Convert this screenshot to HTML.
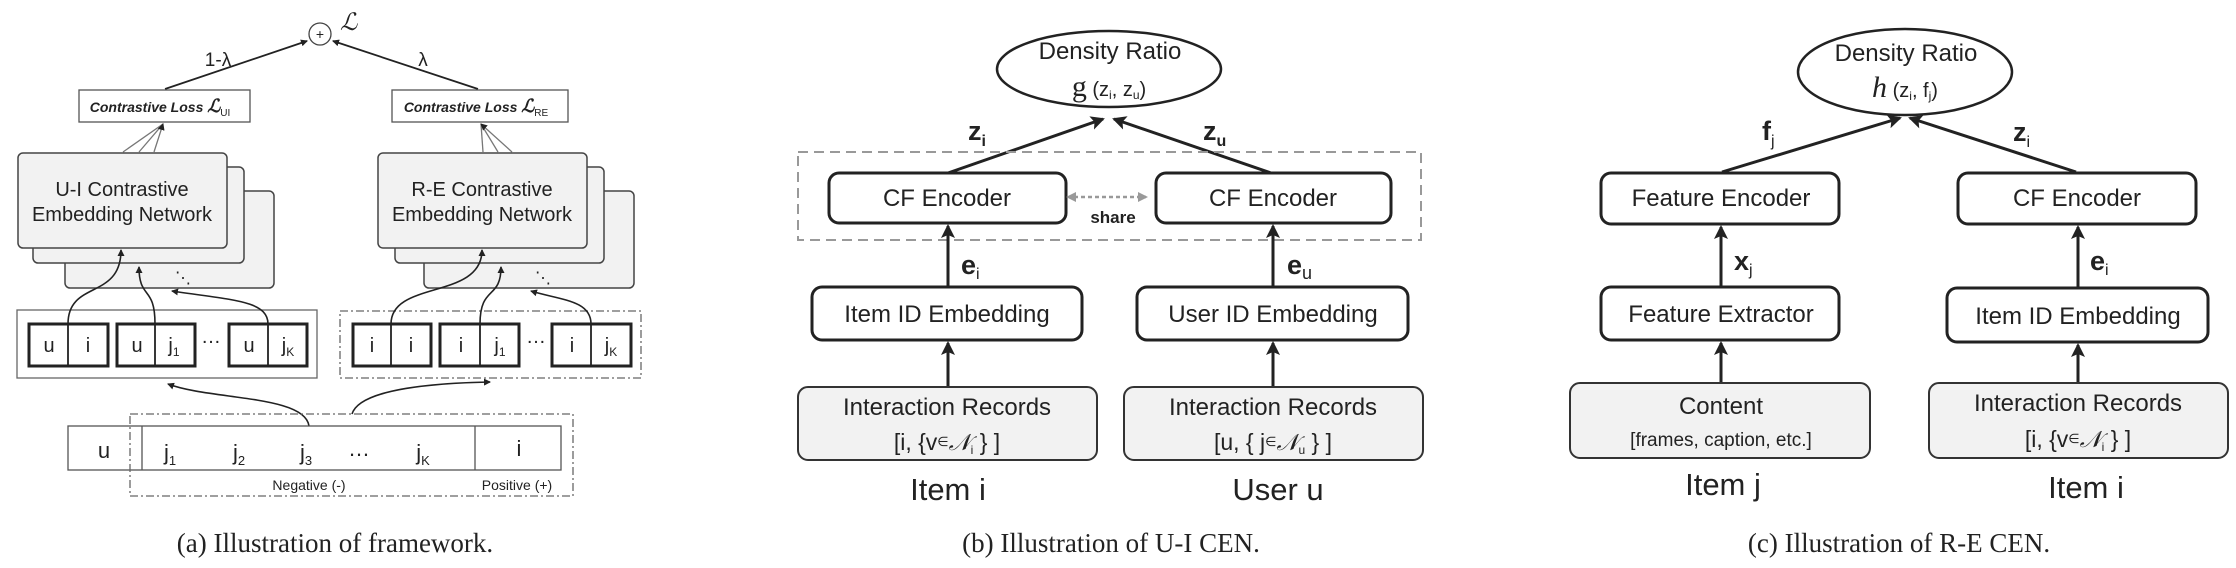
<!DOCTYPE html>
<html><head><meta charset="utf-8"><style>
html,body{margin:0;padding:0;background:#fff;}
svg{display:block;}
text{font-family:"Liberation Sans",sans-serif;fill:#222;}
.ser{font-family:"Liberation Serif",serif;}
</style></head><body>
<svg width="2236" height="568" viewBox="0 0 2236 568" xmlns="http://www.w3.org/2000/svg">
<defs>
<marker id="ah" markerWidth="10" markerHeight="10" refX="8" refY="5" orient="auto" markerUnits="userSpaceOnUse"><path d="M0,0 L10,5 L0,10 z" fill="#222"/></marker>
<marker id="ahs" markerWidth="7" markerHeight="7" refX="6" refY="3.5" orient="auto" markerUnits="userSpaceOnUse"><path d="M0,0 L7,3.5 L0,7 z" fill="#222"/></marker>
<marker id="ahb" markerWidth="14" markerHeight="14" refX="12" refY="7" orient="auto" markerUnits="userSpaceOnUse"><path d="M0,0 L14,7 L0,14 L3,7 z" fill="#222"/></marker>
<marker id="ahg" markerWidth="10" markerHeight="10" refX="8" refY="5" orient="auto" markerUnits="userSpaceOnUse"><path d="M0,0 L10,5 L0,10 z" fill="#999"/></marker>
<marker id="ahgs" markerWidth="10" markerHeight="10" refX="2" refY="5" orient="auto-start-reverse" markerUnits="userSpaceOnUse"><path d="M0,0 L10,5 L0,10 z" fill="#999"/></marker>
</defs>

<!-- ===== Panel a ===== -->
<circle cx="320" cy="34" r="11" fill="#fff" stroke="#444" stroke-width="1.3"/>
<text x="320" y="39" font-size="14" text-anchor="middle">+</text>
<text x="340" y="30" font-size="24" font-style="italic" class="ser">ℒ</text>
<line x1="165" y1="89" x2="307" y2="41" stroke="#222" stroke-width="1.8" marker-end="url(#ahs)"/>
<line x1="478" y1="89" x2="333" y2="41" stroke="#222" stroke-width="1.8" marker-end="url(#ahs)"/>
<text x="218" y="66" font-size="19" text-anchor="middle">1-λ</text>
<text x="423" y="66" font-size="19" text-anchor="middle">λ</text>

<rect x="79" y="90" width="171" height="32" fill="#fff" stroke="#555" stroke-width="1.3"/>
<text x="160" y="112" font-size="14" font-style="italic" font-weight="bold" text-anchor="middle">Contrastive Loss <tspan class="ser" font-size="18">ℒ</tspan><tspan font-size="10" font-style="normal" font-weight="normal" dy="4">UI</tspan></text>
<rect x="392" y="90" width="176" height="32" fill="#fff" stroke="#555" stroke-width="1.3"/>
<text x="476" y="112" font-size="14" font-style="italic" font-weight="bold" text-anchor="middle">Contrastive Loss <tspan class="ser" font-size="18">ℒ</tspan><tspan font-size="10" font-style="normal" font-weight="normal" dy="4">RE</tspan></text>

<g stroke="#777" stroke-width="1.3">
<line x1="123" y1="152" x2="163" y2="124"/><line x1="139" y1="152" x2="163" y2="124"/><line x1="154" y1="152" x2="163" y2="124" marker-end="url(#ahs)"/>
<line x1="483" y1="152" x2="481" y2="124"/><line x1="498" y1="152" x2="481" y2="124"/><line x1="512" y1="152" x2="481" y2="124" marker-end="url(#ahs)"/>
</g>

<!-- UI stacked boxes -->
<g fill="#f2f2f2" stroke="#444" stroke-width="1.5">
<rect x="65" y="191" width="209" height="97" rx="5"/>
<rect x="33" y="167" width="211" height="96" rx="5"/>
<rect x="18" y="153" width="209" height="95" rx="5"/>
<rect x="424" y="191" width="210" height="97" rx="5"/>
<rect x="395" y="167" width="209" height="96" rx="5"/>
<rect x="378" y="153" width="209" height="95" rx="5"/>
</g>
<text x="122" y="196" font-size="20" text-anchor="middle">U-I Contrastive</text>
<text x="122" y="221" font-size="20" text-anchor="middle">Embedding Network</text>
<text x="482" y="196" font-size="20" text-anchor="middle">R-E Contrastive</text>
<text x="482" y="221" font-size="20" text-anchor="middle">Embedding Network</text>
<text x="183" y="283" font-size="16" text-anchor="middle">⋱</text>
<text x="543" y="283" font-size="16" text-anchor="middle">⋱</text>

<!-- pair containers -->
<rect x="17" y="310" width="300" height="68" fill="none" stroke="#666" stroke-width="1.3"/>
<rect x="340" y="311" width="301" height="67" fill="none" stroke="#666" stroke-width="1.3" stroke-dasharray="8,3,2,3"/>
<g fill="#fff" stroke="#222" stroke-width="3">
<rect x="29" y="324" width="79" height="42"/><rect x="117" y="324" width="78" height="42"/><rect x="229" y="324" width="78" height="42"/>
<rect x="353" y="324" width="78" height="42"/><rect x="440" y="324" width="79" height="42"/><rect x="552" y="324" width="79" height="42"/>
</g>
<g stroke="#222" stroke-width="1.8">
<line x1="68" y1="324" x2="68" y2="366"/><line x1="155" y1="324" x2="155" y2="366"/><line x1="268" y1="324" x2="268" y2="366"/>
<line x1="391" y1="324" x2="391" y2="366"/><line x1="480" y1="324" x2="480" y2="366"/><line x1="591" y1="324" x2="591" y2="366"/>
</g>
<g font-size="20" text-anchor="middle">
<text x="49" y="352">u</text><text x="88" y="352">i</text>
<text x="137" y="352">u</text><text x="174" y="352">j<tspan font-size="12" dy="4">1</tspan></text>
<text x="211" y="343">…</text>
<text x="249" y="352">u</text><text x="288" y="352">j<tspan font-size="12" dy="4">K</tspan></text>
<text x="372" y="352">i</text><text x="411" y="352">i</text>
<text x="461" y="352">i</text><text x="500" y="352">j<tspan font-size="12" dy="4">1</tspan></text>
<text x="536" y="343">…</text>
<text x="572" y="352">i</text><text x="611" y="352">j<tspan font-size="12" dy="4">K</tspan></text>
</g>
<!-- curves up -->
<g fill="none" stroke="#222" stroke-width="1.6">
<path d="M68,324 C68,280 121,300 121,250" marker-end="url(#ahs)"/>
<path d="M155,324 C155,285 139,300 139,267" marker-end="url(#ahs)"/>
<path d="M268,324 C268,300 230,300 172,291" marker-end="url(#ahs)"/>
<path d="M391,324 C391,280 482,300 482,250" marker-end="url(#ahs)"/>
<path d="M480,324 C480,285 501,300 501,267" marker-end="url(#ahs)"/>
<path d="M591,324 C591,300 560,300 531,291" marker-end="url(#ahs)"/>
<path d="M309,426 C305,395 210,400 168,384" marker-end="url(#ahs)"/>
<path d="M352,414 C360,388 440,383 490,382" marker-end="url(#ahs)"/>
</g>
<!-- bottom row -->
<rect x="68" y="426" width="493" height="44" fill="#fff" stroke="#555" stroke-width="1.3"/>
<line x1="142" y1="426" x2="142" y2="470" stroke="#555" stroke-width="1.3"/>
<line x1="475" y1="426" x2="475" y2="470" stroke="#555" stroke-width="1.3"/>
<rect x="130" y="414" width="443" height="82" fill="none" stroke="#666" stroke-width="1.3" stroke-dasharray="8,3,2,3"/>
<g font-size="22" text-anchor="middle">
<text x="104" y="458">u</text>
<text x="170" y="460">j<tspan font-size="13" dy="5">1</tspan></text>
<text x="239" y="460">j<tspan font-size="13" dy="5">2</tspan></text>
<text x="306" y="460">j<tspan font-size="13" dy="5">3</tspan></text>
<text x="359" y="456">…</text>
<text x="423" y="460">j<tspan font-size="13" dy="5">K</tspan></text>
<text x="519" y="456">i</text>
</g>
<text x="309" y="490" font-size="14" text-anchor="middle">Negative (-)</text>
<text x="517" y="490" font-size="14" text-anchor="middle">Positive (+)</text>
<text x="335" y="552" font-size="27" class="ser" text-anchor="middle">(a)  Illustration of framework.</text>

<!-- ===== Panel b ===== -->
<ellipse cx="1109" cy="69" rx="112" ry="38" fill="#fff" stroke="#222" stroke-width="2.5"/>
<text x="1110" y="59" font-size="24" text-anchor="middle">Density Ratio</text>
<text x="1109" y="96" font-size="20" text-anchor="middle"><tspan class="ser" font-size="30">g</tspan> (z<tspan font-size="12" dy="3">i</tspan><tspan dy="-3">, z</tspan><tspan font-size="12" dy="3">u</tspan><tspan dy="-3">)</tspan></text>
<line x1="948" y1="173" x2="1103" y2="119" stroke="#222" stroke-width="3" marker-end="url(#ahb)"/>
<line x1="1271" y1="173" x2="1114" y2="119" stroke="#222" stroke-width="3" marker-end="url(#ahb)"/>
<text x="968" y="140" font-size="27" font-weight="bold">z<tspan font-size="16" dy="6">i</tspan></text>
<text x="1203" y="140" font-size="27" font-weight="bold">z<tspan font-size="16" dy="6">u</tspan></text>
<rect x="798" y="152" width="623" height="88" fill="none" stroke="#999" stroke-width="2" stroke-dasharray="10,6"/>
<rect x="829" y="173" width="237" height="50" rx="10" fill="#fff" stroke="#222" stroke-width="3"/>
<rect x="1156" y="173" width="235" height="50" rx="10" fill="#fff" stroke="#222" stroke-width="3"/>
<text x="947" y="206" font-size="24" text-anchor="middle">CF Encoder</text>
<text x="1273" y="206" font-size="24" text-anchor="middle">CF Encoder</text>
<line x1="1074" y1="197" x2="1146" y2="197" stroke="#999" stroke-width="2.5" stroke-dasharray="4,3" marker-start="url(#ahgs)" marker-end="url(#ahg)"/>
<text x="1113" y="223" font-size="17" font-weight="bold" text-anchor="middle" fill="#333">share</text>
<line x1="948" y1="287" x2="948" y2="226" stroke="#222" stroke-width="3" marker-end="url(#ahb)"/>
<line x1="1273" y1="287" x2="1273" y2="226" stroke="#222" stroke-width="3" marker-end="url(#ahb)"/>
<text x="961" y="274" font-size="27" font-weight="bold">e<tspan font-size="16" font-weight="normal" dy="5">i</tspan></text>
<text x="1287" y="274" font-size="27" font-weight="bold">e<tspan font-size="18" font-weight="normal" dy="5">u</tspan></text>
<rect x="812" y="287" width="270" height="53" rx="10" fill="#fff" stroke="#222" stroke-width="3"/>
<rect x="1137" y="287" width="271" height="53" rx="10" fill="#fff" stroke="#222" stroke-width="3"/>
<text x="947" y="322" font-size="24" text-anchor="middle">Item ID Embedding</text>
<text x="1273" y="322" font-size="24" text-anchor="middle">User ID Embedding</text>
<line x1="948" y1="387" x2="948" y2="343" stroke="#222" stroke-width="3" marker-end="url(#ahb)"/>
<line x1="1273" y1="387" x2="1273" y2="343" stroke="#222" stroke-width="3" marker-end="url(#ahb)"/>
<rect x="798" y="387" width="299" height="73" rx="10" fill="#f2f2f2" stroke="#333" stroke-width="2"/>
<rect x="1124" y="387" width="299" height="73" rx="10" fill="#f2f2f2" stroke="#333" stroke-width="2"/>
<text x="947" y="415" font-size="24" text-anchor="middle">Interaction Records</text>
<text x="947" y="450" font-size="23" text-anchor="middle">[i, {v<tspan font-size="13" dy="-4">∈</tspan><tspan class="ser" font-style="italic" dy="4">𝒩</tspan><tspan font-size="12" dy="4">i</tspan><tspan dy="-4"> } ]</tspan></text>
<text x="1273" y="415" font-size="24" text-anchor="middle">Interaction Records</text>
<text x="1273" y="450" font-size="23" text-anchor="middle">[u, { j<tspan font-size="13" dy="-4">∈</tspan><tspan class="ser" font-style="italic" dy="4">𝒩</tspan><tspan font-size="12" dy="4">u</tspan><tspan dy="-4"> } ]</tspan></text>
<text x="948" y="500" font-size="31" text-anchor="middle">Item i</text>
<text x="1278" y="500" font-size="31" text-anchor="middle">User u</text>
<text x="1111" y="552" font-size="27" class="ser" text-anchor="middle">(b)  Illustration of U-I CEN.</text>

<!-- ===== Panel c ===== -->
<ellipse cx="1905" cy="72" rx="107" ry="43" fill="#fff" stroke="#222" stroke-width="2.5"/>
<text x="1906" y="61" font-size="24" text-anchor="middle">Density Ratio</text>
<text x="1905" y="97" font-size="20" text-anchor="middle"><tspan class="ser" font-style="italic" font-size="30">h</tspan> (z<tspan font-size="12" dy="3">i</tspan><tspan dy="-3">, f</tspan><tspan font-size="12" dy="3">j</tspan><tspan dy="-3">)</tspan></text>
<line x1="1722" y1="172" x2="1900" y2="118" stroke="#222" stroke-width="3" marker-end="url(#ahb)"/>
<line x1="2076" y1="172" x2="1910" y2="118" stroke="#222" stroke-width="3" marker-end="url(#ahb)"/>
<text x="1762" y="140" font-size="27" font-weight="bold">f<tspan font-size="16" font-weight="normal" dy="6">j</tspan></text>
<text x="2013" y="141" font-size="27" font-weight="bold">z<tspan font-size="16" font-weight="normal" dy="6">i</tspan></text>
<rect x="1601" y="173" width="238" height="51" rx="10" fill="#fff" stroke="#222" stroke-width="3"/>
<rect x="1958" y="173" width="238" height="51" rx="10" fill="#fff" stroke="#222" stroke-width="3"/>
<text x="1721" y="206" font-size="24" text-anchor="middle">Feature Encoder</text>
<text x="2077" y="206" font-size="24" text-anchor="middle">CF Encoder</text>
<line x1="1721" y1="287" x2="1721" y2="227" stroke="#222" stroke-width="3" marker-end="url(#ahb)"/>
<line x1="2078" y1="288" x2="2078" y2="227" stroke="#222" stroke-width="3" marker-end="url(#ahb)"/>
<text x="1734" y="270" font-size="27" font-weight="bold">x<tspan font-size="16" font-weight="normal" dy="5">j</tspan></text>
<text x="2090" y="270" font-size="27" font-weight="bold">e<tspan font-size="16" font-weight="normal" dy="5">i</tspan></text>
<rect x="1601" y="287" width="238" height="53" rx="10" fill="#fff" stroke="#222" stroke-width="3"/>
<rect x="1947" y="288" width="261" height="54" rx="10" fill="#fff" stroke="#222" stroke-width="3"/>
<text x="1721" y="322" font-size="24" text-anchor="middle">Feature Extractor</text>
<text x="2078" y="324" font-size="24" text-anchor="middle">Item ID Embedding</text>
<line x1="1721" y1="383" x2="1721" y2="343" stroke="#222" stroke-width="3" marker-end="url(#ahb)"/>
<line x1="2078" y1="383" x2="2078" y2="345" stroke="#222" stroke-width="3" marker-end="url(#ahb)"/>
<rect x="1570" y="383" width="300" height="75" rx="10" fill="#f2f2f2" stroke="#333" stroke-width="2"/>
<rect x="1929" y="383" width="299" height="75" rx="10" fill="#f2f2f2" stroke="#333" stroke-width="2"/>
<text x="1721" y="414" font-size="24" text-anchor="middle">Content</text>
<text x="1721" y="446" font-size="19" text-anchor="middle">[frames, caption, etc.]</text>
<text x="2078" y="411" font-size="24" text-anchor="middle">Interaction Records</text>
<text x="2078" y="447" font-size="23" text-anchor="middle">[i, {v<tspan font-size="13" dy="-4">∈</tspan><tspan class="ser" font-style="italic" dy="4">𝒩</tspan><tspan font-size="12" dy="4">i</tspan><tspan dy="-4"> } ]</tspan></text>
<text x="1723" y="495" font-size="31" text-anchor="middle">Item j</text>
<text x="2086" y="498" font-size="31" text-anchor="middle">Item i</text>
<text x="1899" y="552" font-size="27" class="ser" text-anchor="middle">(c)  Illustration of R-E CEN.</text>
</svg>
</body></html>
